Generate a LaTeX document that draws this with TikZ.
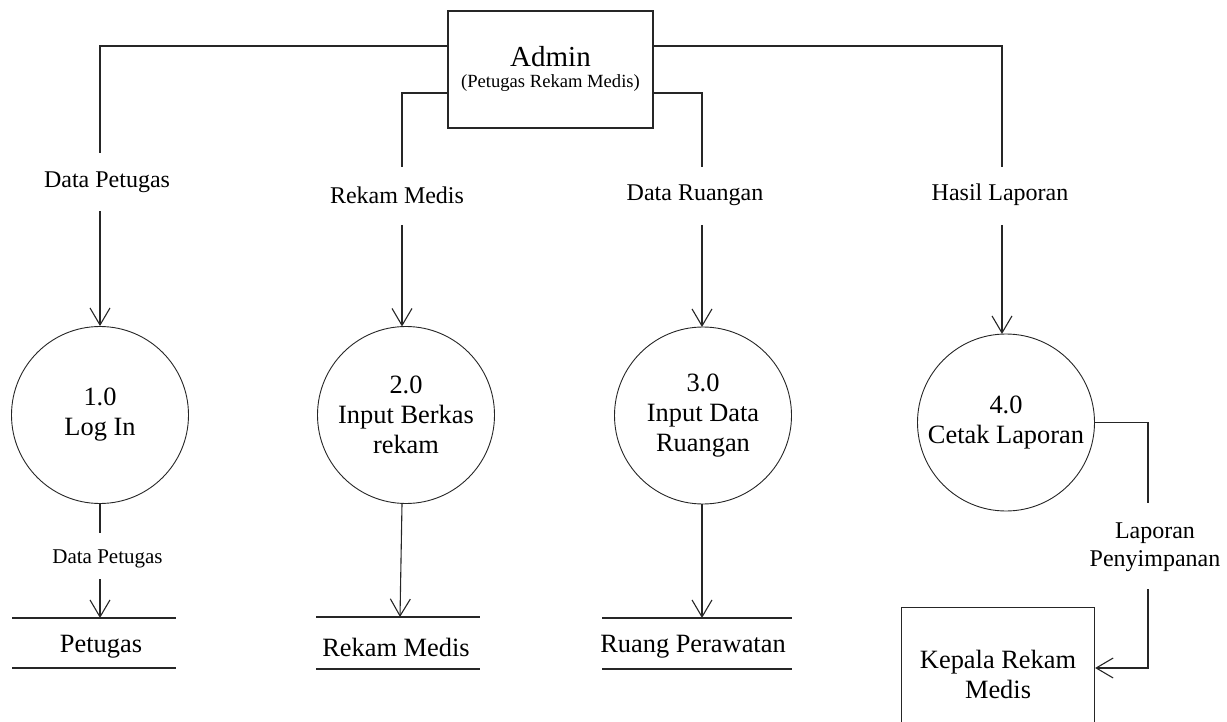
\documentclass[tikz,border=0pt]{standalone}
\usepackage{fontspec}
\setmainfont{Liberation Serif}
\usetikzlibrary{arrows.meta}
\begin{document}
\begin{tikzpicture}[x=1pt,y=-1pt,
  flow/.style={line width=1.1pt,draw=black!85},
  arr/.style={flow,-{Straight Barb[length=17pt,width=20pt,line width=1.1pt]}},
  proc/.style={draw=black!85,circle,line width=0.9pt,minimum size=177pt,inner sep=0pt,align=center,font=\fontsize{26.4}{30}\selectfont},
  lbl/.style={align=center,font=\fontsize{24}{28}\selectfont,inner sep=0pt},
  storetxt/.style={font=\fontsize{26.4}{30}\selectfont,inner sep=0pt},
  ent/.style={draw=black!85,line width=1.1pt,align=center,inner sep=0pt}]
\useasboundingbox (0,0) rectangle (1227,722);
\clip (0,0) rectangle (1227,722);

% external entities
\node[ent,minimum width=205pt,minimum height=117pt] (admin) at (550.5,69.5) {};
\node[inner sep=0pt,font=\fontsize{29}{29}\selectfont] (admintitle) at (550.5,57) {Admin};
\node[inner sep=0pt,font=\fontsize{18.6}{22}\selectfont] (adminsub) at (550.5,83) {(Petugas Rekam Medis)};
\node[ent,minimum width=193pt,minimum height=133pt,anchor=north west,font=\fontsize{26.4}{30}\selectfont] (kep) at (901,607) {Kepala Rekam\\Medis};

% processes
\node[proc] (p1) at (100,415) {1.0\\Log In};
\node[proc] (p2) at (406,415) {2.0\\Input Berkas\\rekam};
\node[proc] (p3) at (703,415.5) {3.0\\Input Data\\Ruangan};
\node[proc] (p4) at (1006,422.5) {4.0\\Cetak Laporan};

% flow labels
\node[lbl] (l1) at (107,182) {Data Petugas};
\node[lbl] (l2) at (397,195) {Rekam Medis};
\node[lbl] (l3) at (695,195) {Data Ruangan};
\node[lbl] (l4) at (1000,195) {Hasil Laporan};
\node[lbl,font=\fontsize{21}{24}\selectfont] (l5) at (107.5,559) {Data Petugas};
\node[lbl] (l6) at (1155,547) {Laporan\\Penyimpanan};

% data stores
\node[storetxt] (s1) at (101,647) {Petugas};
\node[storetxt] (s2) at (396,647) {Rekam Medis};
\node[storetxt] (s3) at (693,647) {Ruang Perawatan};
\draw[flow] (12,618) -- (176,618) (12,668) -- (176,668);
\draw[flow] (316,617) -- (480,617) (316,669) -- (480,669);
\draw[flow] (602,618) -- (792,618) (602,669) -- (792,669);

% connectors from Admin
\draw[flow] (admin.west |- 0,46) -- (100,46) -- (100,153);
\draw[arr] (100,211) -- (p1.north);
\draw[flow] (admin.west |- 0,93) -- (402,93) -- (402,167);
\draw[arr] (402,225) -- (402,326.5);
\draw[flow] (admin.east |- 0,93) -- (702,93) -- (702,167);
\draw[arr] (702,225) -- (702,327);
\draw[flow] (admin.east |- 0,46) -- (1002,46) -- (1002,167);
\draw[arr] (1002,225) -- (1002,334);

% connectors to stores
\draw[flow] (p1.south) -- (100,533);
\draw[arr] (100,579) -- (100,618);
\draw[arr] (402,504) -- (400,617);
\draw[arr] (702,504) -- (702,618);

% report flow
\draw[flow] (p4.east) -- (1148,422.5) -- (1148,503);
\draw[arr] (1148,589) -- (1148,668) -- (kep.east |- 0,668);
\end{tikzpicture}
\end{document}
